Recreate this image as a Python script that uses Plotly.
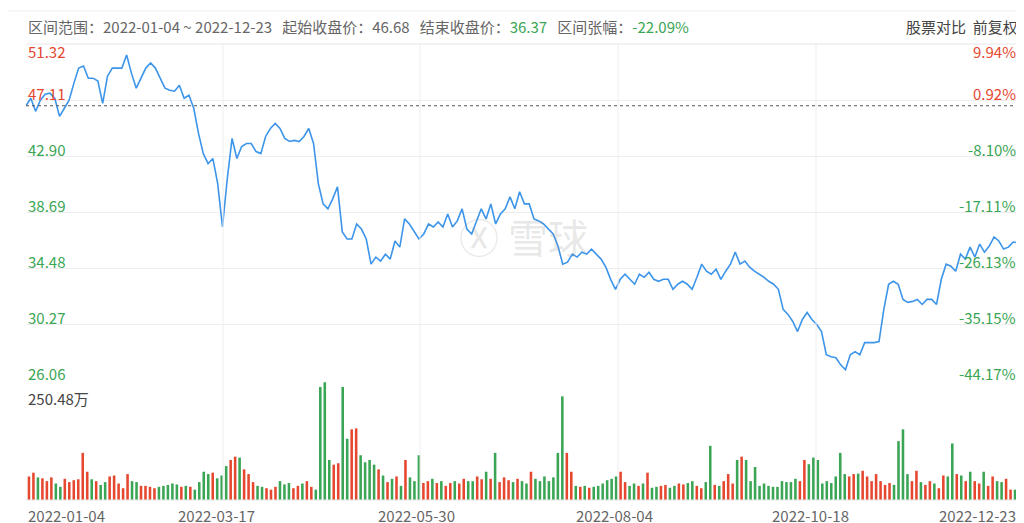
import plotly.graph_objects as go
import numpy as np

prices = [46.68,47.24,46.26,47.09,47.54,47.62,47.24,45.88,46.49,47.09,48.38,49.51,49.66,48.75,48.75,48.53,46.86,48.90,49.51,49.51,49.51,50.49,49.13,48.00,48.75,49.51,49.89,49.51,48.75,48.00,47.85,47.77,48.22,47.24,47.47,46.49,44.60,43.08,42.33,42.71,40.82,37.56,41.19,44.22,42.71,43.61,43.84,43.84,43.23,43.08,44.37,44.97,45.35,44.97,44.22,43.99,44.07,43.99,44.37,44.97,43.84,40.82,39.30,38.93,39.68,40.59,37.19,36.66,36.66,37.79,37.41,36.66,34.77,35.30,35.00,35.52,35.15,36.51,36.05,38.17,37.79,37.26,36.66,37.04,37.79,37.56,37.94,37.56,38.54,37.56,38.02,38.93,37.41,37.04,38.02,38.93,38.17,39.30,37.79,38.54,38.93,39.83,38.93,40.21,39.30,39.30,38.17,38.02,37.79,37.41,37.04,36.13,34.77,34.92,35.52,35.30,35.67,35.52,35.90,35.52,35.15,34.54,33.63,32.88,33.63,34.01,33.63,33.26,34.01,33.78,34.16,33.63,33.48,33.63,33.63,32.88,33.26,33.48,33.26,32.88,33.78,34.77,34.24,34.01,34.39,33.63,34.24,34.77,35.67,34.77,35.00,34.54,34.24,34.01,33.78,33.48,33.26,32.88,31.37,30.99,30.46,29.70,30.61,31.14,30.61,30.23,29.70,27.96,27.81,27.73,27.20,26.83,27.96,28.19,27.96,28.87,28.87,28.87,28.95,31.37,33.26,33.48,33.26,32.12,31.90,31.97,32.12,31.74,32.12,32.12,31.74,33.63,34.77,34.62,34.24,35.52,35.15,36.05,35.30,36.28,35.67,36.13,36.81,36.51,35.90,36.05,36.43,36.37]

volumes = [50,58,48,46,40,48,35,28,45,38,42,44,100,60,44,40,32,38,50,52,
           35,25,55,40,38,30,30,28,25,28,30,32,35,33,28,30,28,22,38,60,
           55,58,46,52,72,85,92,90,65,55,38,30,28,25,22,28,40,33,36,25,
           30,35,40,28,22,240,250,85,75,78,240,130,150,152,95,80,85,75,65,52,
           38,45,50,30,85,48,40,95,36,40,45,36,40,30,36,40,35,45,40,40,
           50,44,60,45,100,38,48,42,38,45,40,35,60,45,40,50,40,48,100,220,
           100,60,30,28,30,26,28,30,35,42,45,50,60,38,30,35,30,35,58,26,
           28,30,32,26,30,35,33,36,40,30,25,38,115,32,30,40,55,35,85,92,
           85,40,70,30,35,30,28,28,40,38,38,45,40,85,76,90,85,35,40,36,
           50,100,55,50,55,56,62,50,40,55,40,32,36,32,125,150,55,40,62,38,
           32,40,35,25,52,50,120,55,52,40,60,40,35,60,30,50,40,38,45,22,22]

left_ticks = ["51.32", "47.11", "42.90", "38.69", "34.48", "30.27", "26.06"]
right_ticks = ["9.94%", "0.92%", "-8.10%", "-17.11%", "-26.13%", "-35.15%", "-44.17%"]
date_labels = ["2022-01-04", "2022-03-17", "2022-05-30", "2022-08-04", "2022-10-18", "2022-12-23"]
start_close = 46.68

RED = "#e5472f"; GREEN = "#3aa554"; BLUE = "#3d95ea"; GRAY = "#666666"

px = np.linspace(0, 1, len(prices))
vx = np.linspace(0, 1, len(volumes))
vcolors = []
for x in vx:
    j = int(round(x * (len(prices) - 1)))
    up = prices[j] >= prices[max(j - 1, 0)]
    vcolors.append(RED if up else GREEN)

fig = go.Figure()
fig.add_trace(go.Scatter(x=px, y=prices, mode="lines", line=dict(color=BLUE, width=1.6),
                         xaxis="x", yaxis="y", hoverinfo="skip"))
fig.add_trace(go.Bar(x=vx, y=volumes, marker_color=vcolors, marker_line_width=0, width=0.0026,
                     xaxis="x2", yaxis="y2", hoverinfo="skip"))

X0, X1 = 18/1024, 1010/1024
def py(p): return 1 - p/523
tickvals = [float(t) for t in left_ticks]
fig.update_layout(
    width=1024, height=523, margin=dict(l=0, r=0, t=0, b=0),
    paper_bgcolor="white", plot_bgcolor="white", showlegend=False,
    font=dict(family="Noto Sans CJK SC", color=GRAY, size=15),
    xaxis=dict(domain=[X0, X1], range=[0, 1], showgrid=False, showticklabels=False, zeroline=False),
    xaxis2=dict(domain=[X0, X1], range=[-0.003, 1.003], anchor="y2", showgrid=False,
                showticklabels=False, zeroline=False),
    yaxis=dict(domain=[py(372), py(36)], range=[26.06, 51.32], tickvals=tickvals,
               showticklabels=False, gridcolor="#eeeeee", zeroline=False),
    yaxis2=dict(domain=[py(492), py(374)], range=[0, 250.48], showgrid=False,
                showticklabels=False, zeroline=False),
)
for xv in [215, 412, 610, 808]:
    fig.add_shape(type="line", xref="paper", yref="paper", x0=xv/1024, x1=xv/1024,
                  y0=py(492), y1=py(36), line=dict(color="#eeeeee", width=1))
for yv in [36, 492]:
    fig.add_shape(type="line", xref="paper", yref="paper", x0=X0, x1=X1, y0=py(yv), y1=py(yv),
                  line=dict(color="#e6e6e6", width=1))
fig.add_shape(type="line", xref="paper", yref="paper", x0=0, x1=1, y0=py(3), y1=py(3),
              line=dict(color="#eeeeee", width=1))
fig.add_shape(type="line", xref="x", yref="y", x0=0, x1=1, y0=start_close, y1=start_close,
              line=dict(color="#555555", width=1, dash="dot"))

for i, (lt, rt) in enumerate(zip(left_ticks, right_ticks)):
    c = RED if i < 2 else GREEN
    yshift = -7 if i == 0 else 7
    fig.add_annotation(x=X0, y=float(lt), xref="paper", yref="y", text=lt, showarrow=False,
                       xanchor="left", yanchor="middle", yshift=yshift, font=dict(color=c, size=15))
    fig.add_annotation(x=X1, y=float(lt), xref="paper", yref="y", text=rt, showarrow=False,
                       xanchor="right", yanchor="middle", yshift=yshift, font=dict(color=c, size=15))
fig.add_annotation(x=X0, y=py(382), xref="paper", yref="paper", text="250.48万", showarrow=False,
                   xanchor="left", yanchor="top", yshift=4, font=dict(color="#444", size=15))

date_x = [18, 168, 368, 566, 762, 1010]
anchors = ["left", "left", "left", "left", "left", "right"]
for d, xx, a in zip(date_labels, date_x, anchors):
    fig.add_annotation(x=xx/1024, y=py(507), xref="paper", yref="paper", text=d, showarrow=False,
                       xanchor=a, yanchor="middle", font=dict(color=GRAY, size=15))

hdr = ("区间范围：2022-01-04 ~ 2022-12-23&nbsp;&nbsp;&nbsp;起始收盘价：46.68&nbsp;&nbsp;&nbsp;"
       "结束收盘价：<span style='color:%s'>36.37</span>&nbsp;&nbsp;&nbsp;区间张幅：<span style='color:%s'>-22.09%%</span>"
       % (GREEN, GREEN))
fig.add_annotation(x=18/1024, y=py(18), xref="paper", yref="paper", text=hdr, showarrow=False,
                   xanchor="left", yanchor="middle", font=dict(color=GRAY, size=15))
fig.add_annotation(x=1012/1024, y=py(18), xref="paper", yref="paper", text="股票对比&nbsp;&nbsp;前复权",
                   showarrow=False, xanchor="right", yanchor="middle", font=dict(color="#444", size=15))
fig.add_annotation(x=515/1024, y=py(228), xref="paper", yref="paper", text="Ⓧ 雪球", showarrow=False,
                   font=dict(color="rgba(150,150,150,0.22)", size=40, family="Noto Sans CJK SC"))

fig.write_html("out.html")
